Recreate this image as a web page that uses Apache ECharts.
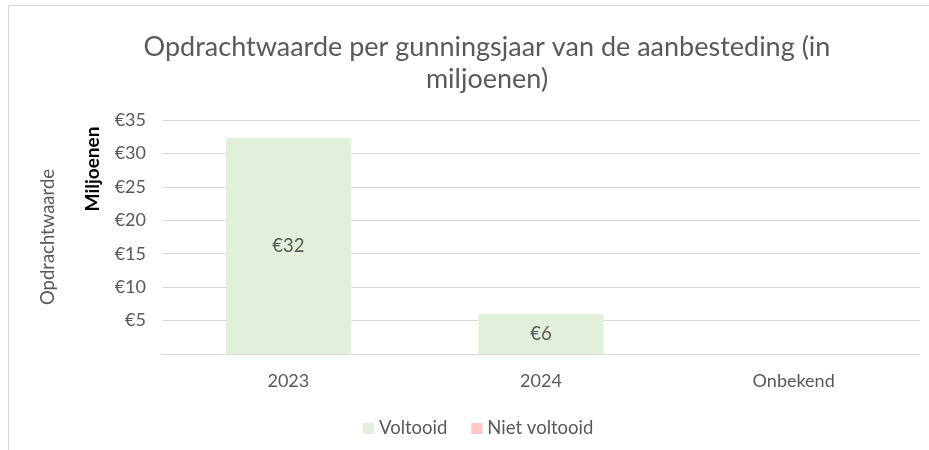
<!DOCTYPE html>
<html>
<head>
<meta charset="utf-8">
<script src="https://cdn.jsdelivr.net/npm/echarts@6/dist/echarts.min.js"></script>
<style>
  html, body { margin: 0; padding: 0; background: #fff; }
  #frame { position: absolute; left: 8px; top: 5px; width: 940px; height: 460px; border: 1px solid #d9d9d9; box-sizing: border-box; }
  #chart { position: absolute; left: 0; top: 0; width: 929px; height: 450px; }
</style>
</head>
<body>
<div id="frame"></div>
<div id="chart"></div>
<script>
// gunningsjaar en waarden (miljoenen euro)
const categories = ['2023', '2024', 'Onbekend'];
const voltooid = [32.3, 6.0, 0];
const nietVoltooid = [0, 0, 0];
const yTicks = { min: 0, max: 35, interval: 5 };

const chart = echarts.init(document.getElementById('chart'));
const font = 'Lato, "Open Sans", sans-serif';

chart.setOption({
  animation: false,
  textStyle: { fontFamily: font },
  title: {
    text: 'Opdrachtwaarde per gunningsjaar van de aanbesteding (in\nmiljoenen)',
    left: 482,
    top: 26,
    textAlign: 'center',
    textStyle: { fontFamily: font, fontSize: 27, fontWeight: 'normal', color: '#595959', lineHeight: 32 }
  },
  legend: {
    data: ['Voltooid', 'Niet voltooid'],
    left: 358,
    top: 414,
    itemWidth: 11,
    itemHeight: 11,
    itemGap: 24,
    icon: 'rect',
    textStyle: { fontFamily: font, fontSize: 18.5, color: '#595959' }
  },
  grid: { left: 162, right: 9, top: 120, bottom: 96 },
  xAxis: {
    type: 'category',
    data: categories,
    axisLine: { lineStyle: { color: '#d9d9d9', width: 1 } },
    axisTick: { show: false },
    axisLabel: { fontFamily: font, fontSize: 18, color: '#595959', margin: 18 }
  },
  yAxis: {
    type: 'value',
    min: yTicks.min,
    max: yTicks.max,
    interval: yTicks.interval,
    axisLine: { show: false },
    axisTick: { show: false },
    splitLine: { lineStyle: { color: '#d9d9d9', width: 1 } },
    axisLabel: {
      fontFamily: font, fontSize: 18, color: '#595959', margin: 16,
      formatter: v => v === 0 ? '' : '€' + v
    }
  },
  graphic: [
    {
      type: 'text',
      x: 48,
      y: 237,
      rotation: Math.PI / 2,
      style: { text: 'Opdrachtwaarde', fontFamily: font, fontSize: 18.5, fill: '#595959', align: 'center', verticalAlign: 'middle' }
    },
    {
      type: 'text',
      x: 93,
      y: 169,
      rotation: Math.PI / 2,
      style: { text: 'Miljoenen', fontFamily: font, fontSize: 19, fontWeight: 'bold', fill: '#000', align: 'center', verticalAlign: 'middle' }
    }
  ],
  series: [
    {
      name: 'Voltooid',
      type: 'bar',
      stack: 'totaal',
      barWidth: 125,
      data: voltooid,
      itemStyle: { color: '#e2efda' },
      label: {
        show: true,
        position: 'inside',
        fontFamily: font,
        fontSize: 18.5,
        color: '#595959',
        formatter: p => p.value > 0 ? '€' + Math.round(p.value) : ''
      }
    },
    {
      name: 'Niet voltooid',
      type: 'bar',
      stack: 'totaal',
      barWidth: 125,
      data: nietVoltooid,
      itemStyle: { color: '#ffc7c7' }
    }
  ]
});
</script>
</body>
</html>
